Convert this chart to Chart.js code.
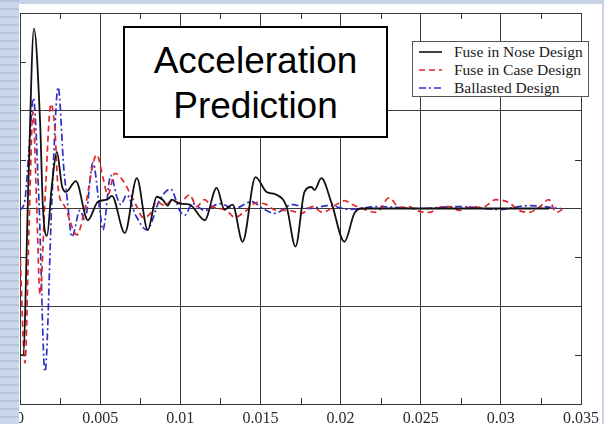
<!DOCTYPE html>
<html>
<head>
<meta charset="utf-8">
<title>Acceleration Prediction</title>
<script src="https://cdn.jsdelivr.net/npm/chart.js@4.4.1/dist/chart.umd.min.js"></script>
<style>
    html, body { margin: 0; padding: 0; }
    body { width: 604px; height: 424px; background: #c6d3e7; position: relative; overflow: hidden; }
    #paper { position: absolute; left: 19px; top: 4px; width: 583px; height: 420px; background: #fff; }
    #stripes {
        position: absolute; left: 0; top: 0; width: 19px; height: 424px; z-index: 3;
        background: repeating-linear-gradient(to bottom, #b4c4dd 0px, #b4c4dd 2px, #cbd7ea 2px, #cbd7ea 8px);
    }
    #wrap { position: absolute; left: 0; top: 0; width: 604px; height: 424px; z-index: 2; }
    #title-box {
        position: absolute; left: 123px; top: 26px; width: 265px; height: 112px; z-index: 4;
        box-sizing: border-box; border: 2px solid #000; background: #fff;
        padding-top: 10px; text-align: center;
        font-family: "Liberation Sans", Arial, sans-serif; font-size: 37px; line-height: 45px; color: #000;
    }
    #legend-box {
        position: absolute; left: 412px; top: 41px; width: 177px; height: 56px; z-index: 4;
        box-sizing: border-box; border: 1px solid #555; background: #fff;
        padding: 1px 0 0 6px;
        font-family: "Liberation Serif", "Times New Roman", serif; font-size: 15.5px; color: #1a1a1a;
    }
    #legend-box .row { height: 18px; display: flex; align-items: center; white-space: nowrap; }
    #legend-box svg { width: 23px; height: 8px; margin-right: 12px; flex: none; }
</style>
</head>
<body>
<div id="paper"></div>
<div id="wrap"><canvas id="accel-chart" width="604" height="424"></canvas></div>
<div id="stripes"></div>
<div id="title-box">Acceleration<br>Prediction</div>
<div id="legend-box"></div>

<script>
// axis ticks
var xTicks = [0, 0.005, 0.01, 0.015, 0.02, 0.025, 0.03, 0.035];
var xMinor = [0.0025, 0.0075, 0.0125, 0.0175, 0.0225, 0.0275, 0.0325];
var yTicks = [-2, -1, 0, 1, 2];
var yMinor = [-1.5, -0.5, 0.5, 1.5];

// Fuse in Nose Design
var noseTime = [0, 0.00019, 0.00053, 0.00087, 0.00125, 0.00143, 0.00168, 0.00199, 0.0023, 0.00262, 0.00286,
    0.00349, 0.00423, 0.00486, 0.00542, 0.00573, 0.00654, 0.00729, 0.00797, 0.00853, 0.0089, 0.00922, 0.00946,
    0.00996, 0.01059, 0.01152, 0.01227, 0.01276, 0.01326, 0.01389, 0.01469, 0.01538, 0.016, 0.01663, 0.01719,
    0.01775, 0.01818, 0.01837, 0.0188, 0.01943, 0.02024, 0.02086, 0.0213, 0.025, 0.033];
var noseAccel = [-1.5, -1.5, 0.3, 1.84, 0.9, 0.01, -0.28, 0.24, 0.58, 0.23, 0.17,
    0.28, -0.12, 0.07, 0.09, 0.13, -0.25, 0.31, -0.22, 0.12, 0.09, 0.03, 0.09,
    0.05, 0.04, -0.12, 0.21, -0.01, 0.04, -0.34, 0.32, 0.17, 0.14, 0.02, -0.39,
    0.17, 0.22, 0.19, 0.31, 0.06, -0.34, -0.05, 0.0, 0.0, 0.0];

// Fuse in Case Design
var caseTime = [0, 0.00031, 0.00056, 0.00081, 0.00103, 0.00125, 0.00156, 0.00193, 0.00218, 0.00237, 0.0028,
    0.00355, 0.00399, 0.00479, 0.00517, 0.00548, 0.00592, 0.00641, 0.00685, 0.00729, 0.00766, 0.00809, 0.00853,
    0.00903, 0.00946, 0.00996, 0.01059, 0.01102, 0.01152, 0.01196, 0.01289, 0.01339, 0.01413, 0.01476, 0.01538,
    0.016, 0.01681, 0.01756, 0.01824, 0.01887, 0.01974, 0.02024, 0.02073, 0.02117, 0.02223, 0.02304, 0.02366,
    0.02428, 0.02472, 0.02553, 0.02615, 0.02677, 0.0274, 0.02821, 0.02883, 0.0297, 0.03051, 0.03113, 0.03176,
    0.03238, 0.033, 0.03344, 0.03394];
var caseAccel = [-0.43, -1.58, -0.22, 0.99, 0.09, -0.88, 0.09, 1.07, 0.8, 0.22, 0.02,
    -0.27, -0.05, 0.55, 0.32, 0.14, 0.36, 0.29, 0.16, 0.02, -0.09, -0.06, 0.07,
    0.03, 0.08, 0.06, 0.14, 0.02, 0.09, 0.02, -0.02, -0.09, -0.02, 0.06, 0.04,
    -0.02, -0.02, -0.05, 0.02, -0.04, 0.04, 0.08, 0.04, 0.01, -0.04, 0.11, 0.01,
    0.02, -0.02, -0.04, 0.01, 0.02, -0.02, 0.02, 0.01, 0.09, 0.06, -0.02, -0.04,
    0.01, 0.09, -0.04, 0.0];

// Ballasted Design
var ballastTime = [0, 0.00031, 0.00056, 0.00083, 0.00118, 0.00156, 0.00199, 0.00238, 0.00274, 0.00293, 0.00324,
    0.00374, 0.00405, 0.00455, 0.00498, 0.00517, 0.00567, 0.00604, 0.00629, 0.00666, 0.00722, 0.00791, 0.00872,
    0.0094, 0.00996, 0.01027, 0.01077, 0.01152, 0.01245, 0.01339, 0.01445, 0.01513, 0.01588, 0.017, 0.01806,
    0.0193, 0.02055, 0.02242, 0.02491, 0.0274, 0.02989, 0.03176, 0.03375];
var ballastAccel = [-0.02, 0.09, 0.6, 1.13, 0.09, -1.67, 0.09, 1.24, 0.39, 0.12, -0.29,
    -0.02, -0.12, 0.47, -0.02, -0.22, 0.34, 0.12, 0.04, 0.14, -0.07, -0.22, 0.09,
    0.2, -0.02, -0.07, 0.05, -0.02, 0.05, 0.0, 0.07, 0.0, -0.05, 0.04, 0.0,
    0.03, -0.01, 0.02, 0.0, 0.02, -0.01, 0.03, 0.0];

function toPoints(xs, ys) {
    return xs.map(function (x, i) { return { x: x, y: ys[i] }; });
}

var minorTicks = {
    id: 'minorTicks',
    afterDraw: function (chart) {
        var ctx = chart.ctx;
        var area = chart.chartArea;
        var xs = chart.scales.x;
        var ys = chart.scales.y;
        ctx.save();
        ctx.strokeStyle = '#333';
        ctx.lineWidth = 1;
        ctx.beginPath();
        xMinor.forEach(function (v) {
            var px = Math.round(xs.getPixelForValue(v)) + 0.5;
            ctx.moveTo(px, area.bottom); ctx.lineTo(px, area.bottom - 6);
            ctx.moveTo(px, area.top); ctx.lineTo(px, area.top + 6);
        });
        yMinor.forEach(function (v) {
            var py = Math.round(ys.getPixelForValue(v)) + 0.5;
            ctx.moveTo(area.left, py); ctx.lineTo(area.left + 6, py);
            ctx.moveTo(area.right, py); ctx.lineTo(area.right - 6, py);
        });
        ctx.stroke();
        ctx.restore();
    }
};

var AccelChart = new Chart(document.getElementById('accel-chart'), {
    type: 'line',
    data: {
        datasets: [{
            label: 'Fuse in Nose Design',
            data: toPoints(noseTime, noseAccel),
            borderColor: '#111111',
            borderWidth: 1.8,
            borderDash: []
        }, {
            label: 'Fuse in Case Design',
            data: toPoints(caseTime, caseAccel),
            borderColor: '#e0262a',
            borderWidth: 1.7,
            borderDash: [6, 4]
        }, {
            label: 'Ballasted Design',
            data: toPoints(ballastTime, ballastAccel),
            borderColor: '#2f2fc8',
            borderWidth: 1.7,
            borderDash: [7, 3, 2, 3]
        }]
    },
    plugins: [minorTicks],
    options: {
        responsive: false,
        animation: false,
        devicePixelRatio: 1,
        layout: { padding: { left: 20, top: 13, right: 22, bottom: 0 } },
        elements: {
            point: { radius: 0 },
            line: { cubicInterpolationMode: 'monotone', fill: false }
        },
        plugins: {
            legend: { display: false },
            tooltip: { enabled: false }
        },
        scales: {
            x: {
                type: 'linear',
                min: 0,
                max: 0.035,
                afterBuildTicks: function (scale) {
                    scale.ticks = xTicks.map(function (v) { return { value: v }; });
                },
                afterFit: function (scale) { scale.height = 20; },
                grid: { color: '#3a3a3a', lineWidth: 1, drawTicks: false },
                border: { color: '#333' },
                ticks: {
                    autoSkip: false,
                    maxRotation: 0,
                    padding: 5,
                    color: '#2a2a2a',
                    font: { family: '"Liberation Serif", "Times New Roman", serif', size: 16 },
                    callback: function (v) { return String(Number(v.toFixed(4))); }
                }
            },
            y: {
                min: -2,
                max: 2,
                afterBuildTicks: function (scale) {
                    scale.ticks = yTicks.map(function (v) { return { value: v }; });
                },
                afterFit: function (scale) { scale.width = 0; },
                grid: { color: '#3a3a3a', lineWidth: 1, drawTicks: false },
                border: { color: '#333' },
                ticks: { display: false }
            }
        }
    }
});

// legend built from the chart datasets
var legendBox = document.getElementById('legend-box');
AccelChart.data.datasets.forEach(function (ds) {
    var row = document.createElement('div');
    row.className = 'row';
    var dash = ds.borderDash.length ? ds.borderDash.join(',') : 'none';
    row.innerHTML = '<svg viewBox="0 0 23 8"><line x1="0" y1="4" x2="23" y2="4" stroke="' + ds.borderColor +
        '" stroke-width="1.6" stroke-dasharray="' + dash + '"/></svg><span>' + ds.label + '</span>';
    legendBox.appendChild(row);
});
</script>
</body>
</html>
